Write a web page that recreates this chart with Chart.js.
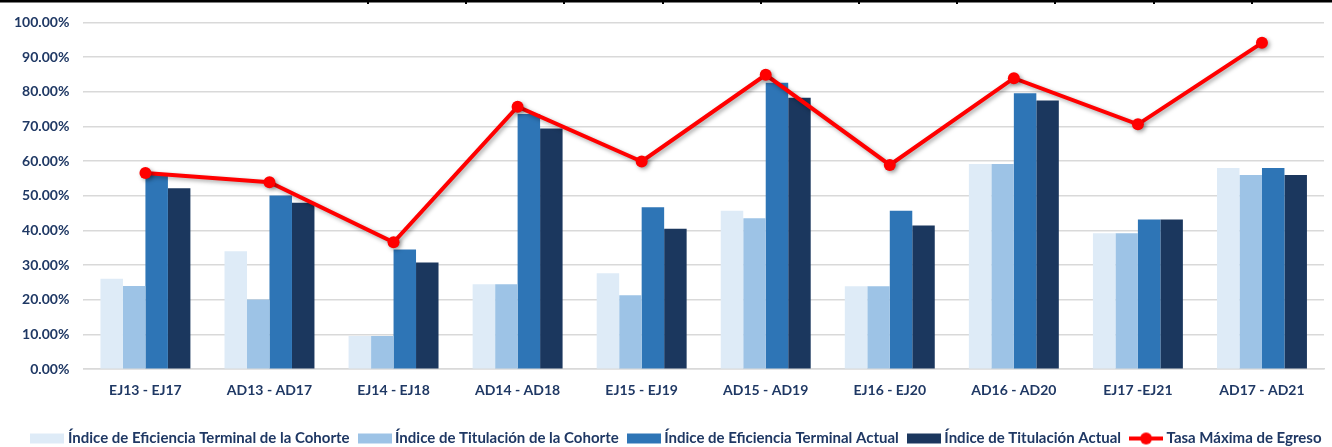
<!DOCTYPE html>
<html>
<head>
<meta charset="utf-8">
<script src="https://cdn.jsdelivr.net/npm/chart.js@4.4.1/dist/chart.umd.min.js"></script>
<style>
  html, body { margin: 0; padding: 0; background: #ffffff; }
  #wrap { width: 1332px; height: 447px; position: relative; }
</style>
</head>
<body>
<div id="wrap"><canvas id="c" width="1332" height="447"></canvas></div>
<script>
const categories = ["EJ13 - EJ17", "AD13 - AD17", "EJ14 - EJ18", "AD14 - AD18", "EJ15 - EJ19",
                    "AD15 - AD19", "EJ16 - EJ20", "AD16 - AD20", "EJ17 -EJ21", "AD17 - AD21"];
const seriesNames = ["Índice de Eficiencia Terminal de la Cohorte", "Índice de Titulación de la Cohorte",
                     "Índice de Eficiencia Terminal Actual", "Índice de Titulación Actual", "Tasa Máxima de Egreso"];
const eficienciaCohorte = [26.1, 34.0, 9.6, 24.5, 27.7, 45.7, 23.9, 59.2, 39.2, 58.0];
const titulacionCohorte = [24.0, 20.1, 9.6, 24.5, 21.3, 43.5, 23.9, 59.2, 39.2, 56.0];
const eficienciaActual  = [56.3, 50.1, 34.5, 73.6, 46.7, 82.6, 45.7, 79.6, 43.2, 58.0];
const titulacionActual  = [52.2, 48.0, 30.8, 69.4, 40.5, 78.3, 41.4, 77.5, 43.2, 56.0];
const tasaMaxima        = [56.6, 53.9, 36.6, 75.7, 59.9, 84.9, 58.9, 83.9, 70.6, 94.1];
const yTicks = [0, 10, 20, 30, 40, 50, 60, 70, 80, 90, 100];

const colors = ["#DEEBF7", "#9DC3E6", "#2E75B6", "#1B375E", "#FF0000"];
const textColor = "#1F3864";
const fontFamily = "Lato, 'Open Sans', sans-serif";

function legendImage(i) {
  const cv = document.createElement('canvas');
  const w = 34, h = 14;
  cv.width = w; cv.height = h;
  const g = cv.getContext('2d');
  if (i < 4) {
    g.fillStyle = colors[i];
    g.fillRect(0, 2, w, 10);
  } else {
    g.strokeStyle = colors[4];
    g.lineWidth = 4;
    g.beginPath(); g.moveTo(0, 7); g.lineTo(w, 7); g.stroke();
    g.fillStyle = colors[4];
    g.beginPath(); g.arc(w / 2, 7, 6, 0, Math.PI * 2); g.fill();
  }
  return cv;
}
const legendImgs = [0, 1, 2, 3, 4].map(legendImage);

const barData = [eficienciaCohorte, titulacionCohorte, eficienciaActual, titulacionActual];
const datasets = barData.map((d, i) => ({
  type: 'bar',
  label: seriesNames[i],
  data: d,
  backgroundColor: colors[i],
  borderWidth: 0,
  barPercentage: 1.0,
  categoryPercentage: 0.725,
  order: 2
}));
datasets.push({
  type: 'line',
  label: seriesNames[4],
  data: tasaMaxima,
  borderColor: colors[4],
  backgroundColor: colors[4],
  borderWidth: 4,
  pointRadius: 6,
  pointHoverRadius: 6,
  pointBackgroundColor: colors[4],
  pointBorderWidth: 0,
  tension: 0,
  order: 1
});

const decorPlugin = {
  id: 'decor',
  afterLayout(chart) {
    if (chart.legend) {
      chart.legend.left += 16;
      chart.legend.right += 16;
    }
  },
  beforeDatasetDraw(chart, args) {
    if (args.index === 4) {
      const ctx = chart.ctx;
      ctx.save();
      ctx.shadowColor = 'rgba(0,0,0,0.35)';
      ctx.shadowBlur = 4;
      ctx.shadowOffsetX = 2;
      ctx.shadowOffsetY = 2;
    }
  },
  afterDatasetDraw(chart, args) {
    if (args.index === 4) chart.ctx.restore();
  },
  afterDraw(chart) {
    const ctx = chart.ctx;
    ctx.save();
    ctx.fillStyle = '#000000';
    ctx.fillRect(0, 0, chart.width, 2.5);
    for (let k = 0; k < 10; k++) {
      const x = Math.round(368 + 98.2 * k);
      ctx.fillRect(x - 1, 0, 2, 4);
    }
    ctx.restore();
  }
};

new Chart(document.getElementById('c'), {
  data: { labels: categories, datasets: datasets },
  plugins: [decorPlugin],
  options: {
    responsive: false,
    animation: false,
    events: [],
    layout: { padding: { left: 0, right: 8, top: 12, bottom: -9 } },
    scales: {
      x: {
        afterFit(scale) { scale.height += 7; },
        grid: { display: false, drawTicks: false },
        border: { display: true, color: '#D9D9D9', width: 1.5 },
        ticks: { color: textColor, font: { family: fontFamily, size: 14, weight: 'bold' }, padding: 13, maxRotation: 0 }
      },
      y: {
        min: 0, max: 100,
        afterBuildTicks(scale) { scale.ticks = yTicks.map(v => ({ value: v })); },
        grid: { color: '#D9D9D9', lineWidth: 1.5, drawTicks: true, tickLength: 0 },
        border: { display: false },
        ticks: {
          color: textColor, font: { family: fontFamily, size: 14, weight: 'bold' }, padding: 14,
          callback: v => v.toFixed(2) + '%'
        }
      }
    },
    plugins: {
      tooltip: { enabled: false },
      legend: {
        position: 'bottom',
        labels: {
          usePointStyle: true,
          pointStyleWidth: 26,
          boxHeight: 14,
          padding: 12,
          color: textColor,
          font: { family: fontFamily, size: 15, weight: 'bold' },
          generateLabels(chart) {
            return chart.data.datasets.map((ds, i) => ({
              text: ds.label,
              datasetIndex: i,
              pointStyle: legendImgs[i],
              fillStyle: colors[i],
              strokeStyle: colors[i],
              lineWidth: 0,
              hidden: false,
              fontColor: textColor
            }));
          }
        }
      }
    }
  }
});
</script>
</body>
</html>
